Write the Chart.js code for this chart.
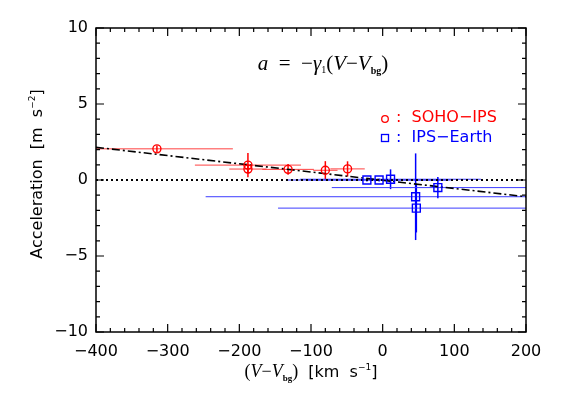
<!DOCTYPE html>
<html>
<head>
<meta charset="utf-8">
<script src="https://cdn.jsdelivr.net/npm/chart.js@4.4.0/dist/chart.umd.min.js"></script>
<style>
body{margin:0;background:#fff}
</style>
</head>
<body>
<canvas id="myChart" width="565" height="404"></canvas>
<script>
// SOHO-IPS points (red circles)
const sohoX=[-315,-188,-188,-132,-80,-49]
const sohoY=[2.05,0.98,0.72,0.70,0.64,0.73]
const sohoXErr=[106,74,26,36,17,24]
const sohoYErr=[0.22,0.8,0.3,0.35,0.6,0.5]
// IPS-Earth points (blue squares)
const ipsX=[-22,-5,11,46,47,77]
const ipsY=[0,0,0.05,-1.1,-1.85,-0.5]
const ipsXErr=[113,100,126,293,193,148]
const ipsYErr=[0.1,0.1,0.65,2.85,1.6,0.7]
// fitted line a = -gamma1 (V - Vbg), end points
const fitX=[-400,200]
const fitY=[2.15,-1.1]
const zeroX=[-400,200]
const zeroY=[0,0]
const xTicks=[-400,-300,-200,-100,0,100,200]
const yTicks=[-10,-5,0,5,10]

const pts=(xs,ys)=>xs.map((x,i)=>({x:x,y:ys[i]}))
const minus=v=>String(v).replace('-','\u2212')

const errorBars={
  id:'errorBars',
  beforeDatasetsDraw(chart){
    const {ctx,chartArea:a,scales:{x,y}}=chart
    ctx.save()
    ctx.beginPath()
    ctx.rect(a.left,a.top,a.width,a.height)
    ctx.clip()
    chart.data.datasets.forEach(ds=>{
      if(!ds.xErr) return
      ds.data.forEach((p,i)=>{
        const px=x.getPixelForValue(p.x), py=y.getPixelForValue(p.y)
        ctx.strokeStyle=ds.hColor
        ctx.lineWidth=1
        ctx.beginPath()
        ctx.moveTo(x.getPixelForValue(p.x-ds.xErr[i]),py)
        ctx.lineTo(x.getPixelForValue(p.x+ds.xErr[i]),py)
        ctx.stroke()
        ctx.strokeStyle=ds.borderColor
        ctx.lineWidth=1.5
        ctx.beginPath()
        ctx.moveTo(px,y.getPixelForValue(p.y-ds.yErr[i]))
        ctx.lineTo(px,y.getPixelForValue(p.y+ds.yErr[i]))
        ctx.stroke()
      })
    })
    ctx.restore()
  }
}

// draw a run of text pieces (font / vertical shift), returns width
function richText(ctx,parts,x,y,align){
  let w=0
  parts.forEach(p=>{ctx.font=p.f;w+=ctx.measureText(p.t).width})
  let cx=align==='center'?x-w/2:x
  ctx.textBaseline='alphabetic'
  ctx.textAlign='left'
  parts.forEach(p=>{
    ctx.font=p.f
    ctx.fillText(p.t,cx,y+(p.dy||0))
    cx+=ctx.measureText(p.t).width
  })
  return w
}

const frame={
  id:'frame',
  afterDraw(chart){
    const {ctx,chartArea:a,scales:{x,y}}=chart
    ctx.save()
    ctx.strokeStyle='#000'
    ctx.lineWidth=1.5
    ctx.strokeRect(a.left,a.top,a.width,a.height)
    ctx.lineWidth=1.2
    ctx.beginPath()
    for(let v=-400;v<=200;v+=20){
      const px=x.getPixelForValue(v), len=(v%100===0)?8:4
      ctx.moveTo(px,a.bottom);ctx.lineTo(px,a.bottom-len)
      ctx.moveTo(px,a.top);ctx.lineTo(px,a.top+len)
    }
    for(let v=-10;v<=10;v+=1){
      const py=y.getPixelForValue(v), len=(v%5===0)?8:4
      ctx.moveTo(a.left,py);ctx.lineTo(a.left+len,py)
      ctx.moveTo(a.right,py);ctx.lineTo(a.right-len,py)
    }
    ctx.stroke()

    ctx.fillStyle='#000'
    const serif='"Liberation Serif", serif'
    const sans='"DejaVu Sans", sans-serif'
    // formula
    richText(ctx,[
      {t:'a',f:'italic 21px '+serif},
      {t:'  =  ',f:'21px '+serif},
      {t:'\u2212',f:'21px '+serif},
      {t:'\u03b3',f:'italic 21px '+serif},
      {t:'1',f:'10px '+serif,dy:3},
      {t:'(',f:'21px '+serif},
      {t:'V',f:'italic 21px '+serif},
      {t:'\u2212',f:'21px '+serif},
      {t:'V',f:'italic 21px '+serif},
      {t:'bg',f:'bold 10px '+serif,dy:4},
      {t:')',f:'21px '+serif}
    ],323,70,'center')

    // x title
    richText(ctx,[
      {t:'(',f:'18px '+serif},
      {t:'V',f:'italic 18px '+serif},
      {t:'\u2212',f:'18px '+serif},
      {t:'V',f:'italic 18px '+serif},
      {t:'bg',f:'bold 9px '+serif,dy:4},
      {t:')',f:'18px '+serif},
      {t:'  [km  s',f:'16px '+sans},
      {t:'\u22121',f:'9px '+sans,dy:-7},
      {t:']',f:'16px '+sans}
    ],311,377,'center')

    // y title
    ctx.save()
    ctx.translate(42,174)
    ctx.rotate(-Math.PI/2)
    richText(ctx,[
      {t:'Acceleration  [m  s',f:'16px '+sans},
      {t:'\u22122',f:'9px '+sans,dy:-7},
      {t:']',f:'16px '+sans}
    ],0,0,'center')
    ctx.restore()

    // legend
    ctx.lineWidth=1.3
    ctx.strokeStyle='#ff0000'
    ctx.beginPath();ctx.arc(385,119,3.3,0,Math.PI*2);ctx.stroke()
    ctx.strokeStyle='#0000ff'
    ctx.strokeRect(381.5,134.5,7,7)
    ctx.font='16px '+sans
    ctx.textBaseline='middle'
    ctx.fillStyle='#ff0000'
    ctx.fillText(':  SOHO\u2212IPS',396,118)
    ctx.fillStyle='#0000ff'
    ctx.fillText(':  IPS\u2212Earth',396,138)
    ctx.restore()
  }
}

const ctx=document.getElementById('myChart')
new Chart(ctx,{
  type:'scatter',
  data:{
    datasets:[
      {label:'SOHO-IPS',data:pts(sohoX,sohoY),xErr:sohoXErr,yErr:sohoYErr,hColor:'#ff4040',
        pointStyle:'circle',pointRadius:4,borderColor:'#ff0000',backgroundColor:'rgba(0,0,0,0)',borderWidth:1.4,order:0},
      {label:'IPS-Earth',data:pts(ipsX,ipsY),xErr:ipsXErr,yErr:ipsYErr,hColor:'#3c3cff',
        pointStyle:'rect',pointRadius:5.6,borderColor:'#0000ff',backgroundColor:'rgba(0,0,0,0)',borderWidth:1.4,order:0},
      {label:'fit',data:pts(fitX,fitY),showLine:true,pointRadius:0,borderColor:'#000',borderWidth:1.6,
        borderDash:[8,3,2,3],order:1},
      {label:'zero',data:pts(zeroX,zeroY),showLine:true,pointRadius:0,borderColor:'#000',borderWidth:2,
        borderDash:[2,3],order:2}
    ]
  },
  options:{
    responsive:false,
    animation:false,
    layout:{padding:{left:0,top:28,right:39,bottom:0}},
    plugins:{legend:{display:false},tooltip:{enabled:false}},
    scales:{
      x:{
        type:'linear',min:-400,max:200,
        afterFit:s=>{s.height=72},
        afterBuildTicks:s=>{s.ticks=xTicks.map(v=>({value:v}))},
        grid:{display:false,drawTicks:false},
        border:{display:false},
        ticks:{color:'#000',padding:10,maxRotation:0,autoSkip:false,font:{family:'"DejaVu Sans"',size:16},callback:minus}
      },
      y:{
        type:'linear',min:-10,max:10,
        afterFit:s=>{s.width=96},
        afterBuildTicks:s=>{s.ticks=yTicks.map(v=>({value:v}))},
        grid:{display:false,drawTicks:false},
        border:{display:false},
        ticks:{color:'#000',padding:8,autoSkip:false,font:{family:'"DejaVu Sans"',size:16},callback:minus}
      }
    }
  },
  plugins:[errorBars,frame]
})
</script>
</body>
</html>
